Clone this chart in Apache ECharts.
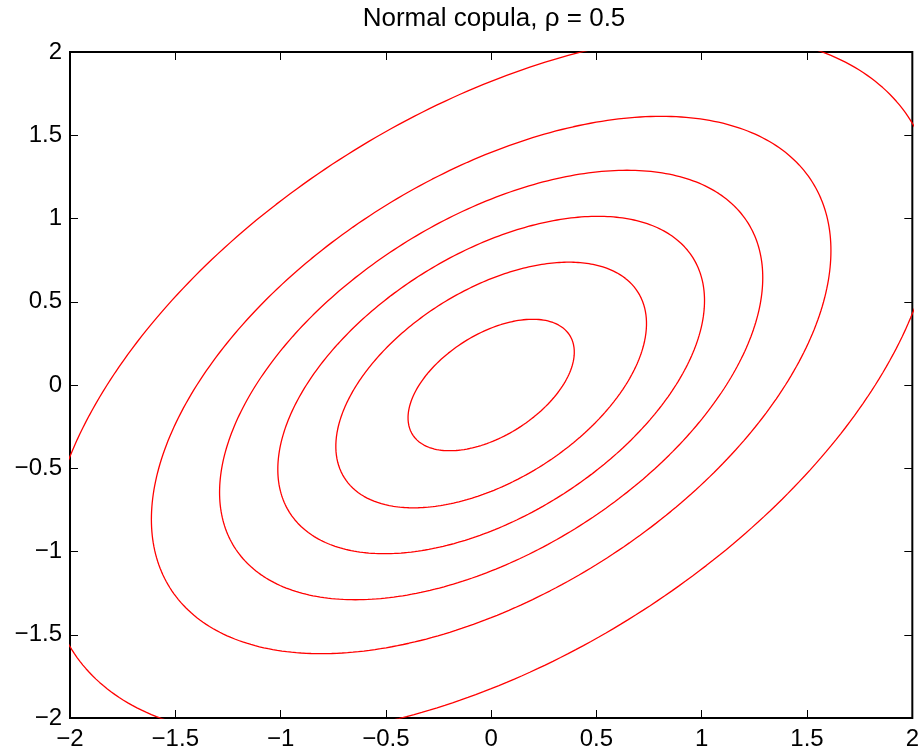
<!DOCTYPE html>
<html>
<head>
<meta charset="utf-8">
<script src="https://cdn.jsdelivr.net/npm/echarts@6/dist/echarts.min.js"></script>
<style>
  html, body { margin: 0; padding: 0; background: #fff; }
  #chart { width: 922px; height: 753px; }
</style>
</head>
<body>
<div id="chart"></div>
<script>
// correlation of the normal copula, from the title
const rho = 0.5
// density levels of the contour lines
const levels = [0.02, 0.05, 0.08, 0.11, 0.14, 0.17]
// axis range and tick step
const axisMin = -2
const axisMax = 2
const tickStep = 0.5

const font = '"Liberation Sans", Arial, Helvetica, sans-serif'

function fmt (v) {
  return String(v).replace('-', '\u2212')
}

// one closed contour of the bivariate normal density at a given level
function contour (level) {
  const peak = 1 / (2 * Math.PI * Math.sqrt(1 - rho * rho))
  const q = -2 * Math.log(level / peak)
  const a = Math.sqrt(q * (1 + rho))
  const b = Math.sqrt(q * (1 - rho))
  const pts = []
  const n = 360
  for (let i = 0; i <= n; i++) {
    const t = (i / n) * 2 * Math.PI
    const u = a * Math.cos(t)
    const v = b * Math.sin(t)
    pts.push([(u - v) / Math.SQRT2, (u + v) / Math.SQRT2])
  }
  return pts
}

const chart = echarts.init(document.getElementById('chart'), null, { renderer: 'canvas' })

const tickStyle = { show: true, inside: true, length: 8, lineStyle: { color: '#000', width: 1 } }

function axis (pos, showLabel) {
  return {
    type: 'value',
    position: pos,
    min: axisMin,
    max: axisMax,
    interval: tickStep,
    axisLine: { show: false, onZero: false },
    axisTick: tickStyle,
    splitLine: { show: false },
    axisLabel: {
      show: showLabel,
      formatter: fmt,
      color: '#000',
      fontFamily: font,
      fontSize: 24,
      margin: pos === 'left' ? 8 : 9
    }
  }
}

chart.setOption({
  animation: false,
  backgroundColor: '#fff',
  title: {
    text: 'Normal copula, \u03c1 = 0.5',
    left: 494,
    top: 6,
    padding: 0,
    textAlign: 'center',
    textStyle: { fontFamily: font, fontSize: 26, fontWeight: 'normal', color: '#000' }
  },
  grid: {
    left: 70,
    right: 5,
    top: 52,
    bottom: 35,
    show: true,
    borderColor: '#000',
    borderWidth: 2,
    backgroundColor: 'transparent'
  },
  xAxis: [axis('bottom', true), axis('top', false)],
  yAxis: [axis('left', true), axis('right', false)],
  series: levels.map(lv => ({
    type: 'line',
    data: contour(lv),
    showSymbol: false,
    clip: true,
    lineStyle: { color: '#ff0000', width: 1.3 },
    silent: true
  }))
})
</script>
</body>
</html>
